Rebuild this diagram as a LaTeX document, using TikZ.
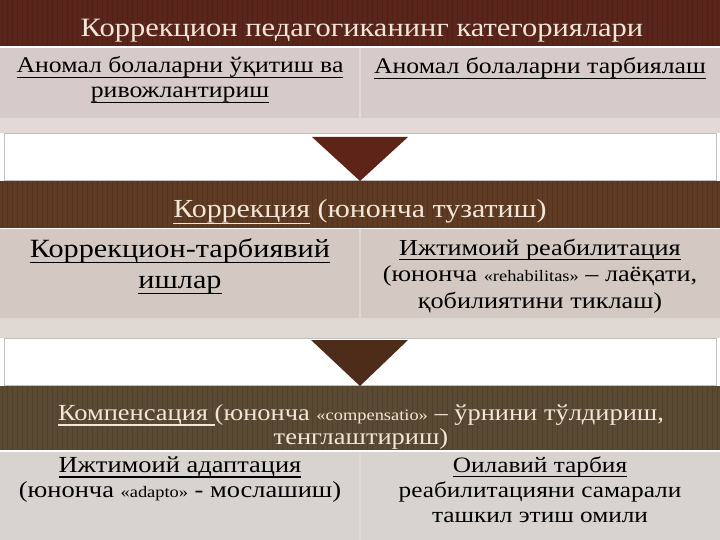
\documentclass[tikz,border=0pt]{standalone}
\usepackage{fontspec}
\setmainfont[FakeStretch=1.15]{Liberation Serif}
\usepackage{tikz}
\usetikzlibrary{calc}

\definecolor{bandA}{HTML}{5A261C}
\definecolor{bandB}{HTML}{603B24}
\definecolor{bandC}{HTML}{5B4A33}
\definecolor{cellA}{HTML}{D6CBC8}
\definecolor{stripA}{HTML}{E3DAD7}
\definecolor{cellB}{HTML}{D3C9C2}
\definecolor{stripB}{HTML}{E0D8D3}
\definecolor{cellC}{HTML}{D9D3CF}
\definecolor{lighttext}{HTML}{F2E6D8}
\definecolor{arrowA}{HTML}{5E2418}
\definecolor{arrowB}{HTML}{4E2C1A}
\definecolor{framegray}{HTML}{C0C0C0}

\newcommand{\lat}[1]{{\fontsize{16}{16}\selectfont #1}}
\newcommand{\undl}[1]{\setbox0\hbox{#1}\rlap{\rule[-0.24em]{\wd0}{0.06em}}\box0\relax}

\begin{document}
\begin{tikzpicture}[x=1pt,y=-1pt,
  box/.style={anchor=north west,inner sep=0,outer sep=0},
  band/.style={box,minimum width=720pt},
  cell/.style={box,minimum width=359pt},
  gapbox/.style={box,minimum width=712pt,minimum height=47pt,fill=white,draw=framegray,line width=0.8pt},
  head/.style={anchor=base,inner sep=0,align=center,text=lighttext},
  body/.style={anchor=base,inner sep=0,align=center,text=black}]
\useasboundingbox (0,0) rectangle (720,540);
\fill[white] (0,0) rectangle (720,540);

% first level
\node[band,minimum height=46pt,fill=bandA] (b1) at (0,0) {};
\fill[stripA] (0,48) rectangle (720,133);
\node[cell,minimum height=70pt,fill=cellA] (c1l) at (0,48) {};
\node[cell,minimum height=70pt,fill=cellA] (c1r) at (361,48) {};
\node[gapbox] (g1) at (4,133) {};
\coordinate (a1) at ($(g1.north)+(-48,4)$);
\coordinate (a2) at ($(g1.north)+(48,4)$);
\fill[arrowA] (a1) -- (a2) -- ($(g1.south)+(0,1)$) -- cycle;

% second level
\node[band,minimum height=47pt,fill=bandB] (b2) at (0,181) {};
\fill[stripB] (0,229) rectangle (720,338);
\node[cell,minimum height=89pt,fill=cellB] (c2l) at (0,229) {};
\node[cell,minimum height=89pt,fill=cellB] (c2r) at (361,229) {};
\node[gapbox] (g2) at (4,338) {};
\coordinate (a3) at ($(g2.north)+(-49,2)$);
\coordinate (a4) at ($(g2.north)+(48,2)$);
\fill[arrowB] (a3) -- (a4) -- ($(g2.south)+(0,1)$) -- cycle;

% third level
\node[band,minimum height=64pt,fill=bandC] (b3) at (0,386) {};
\fill[stripB] (0,452) rectangle (720,540);
\node[cell,minimum height=88pt,fill=cellC] (c3l) at (0,452) {};
\node[cell,minimum height=88pt,fill=cellC] (c3r) at (361,452) {};

% stripes on the bands
\foreach \i in {2,7,...,720} {
  \draw[black,opacity=0.12,line width=1pt] (\i,0) -- (\i,46);
  \draw[black,opacity=0.12,line width=1pt] (\i,181) -- (\i,228);
  \draw[black,opacity=0.12,line width=1pt] (\i,386) -- (\i,450);
}

% texts
\node[head,font=\fontsize{26.5}{30}\selectfont] (t1) at (362,37) {Коррекцион педагогиканинг категориялари};
\node[body,font=\fontsize{22.4}{25}\selectfont] (t1l) at (180,98) {\undl{Аномал болаларни ўқитиш ва}\\\undl{ривожлантириш}};
\node[body,font=\fontsize{22.4}{25}\selectfont] (t1r) at (540,74) {\undl{Аномал болаларни тарбиялаш}};

\node[head,font=\fontsize{26}{28}\selectfont] (t2) at (360,218) {\undl{Коррекция} (юнонча тузатиш)};
\node[body,font=\fontsize{26.3}{31}\selectfont] (t2l) at (180,288) {\undl{Коррекцион-тарбиявий}\\\undl{ишлар}};
\node[body,font=\fontsize{22.8}{26.5}\selectfont] (t2r) at (540,308) {\undl{Ижтимоий реабилитация}\\(юнонча \lat{«rehabilitas»} – лаёқати,\\қобилиятини тиклаш)};

\node[head,font=\fontsize{23}{24}\selectfont] (t3) at (361,444) {\undl{Компенсация }(юнонча \lat{«compensatio»} – ўрнини тўлдириш,\\тенглаштириш)};
\node[body,font=\fontsize{23}{25}\selectfont] (t3l) at (180,497) {\undl{Ижтимоий адаптация}\\(юнонча \lat{«adapto»} - мослашиш)};
\node[body,font=\fontsize{22}{25}\selectfont] (t3r) at (540,522) {\undl{Оилавий тарбия}\\реабилитацияни самарали\\ташкил этиш омили};
\end{tikzpicture}
\end{document}
